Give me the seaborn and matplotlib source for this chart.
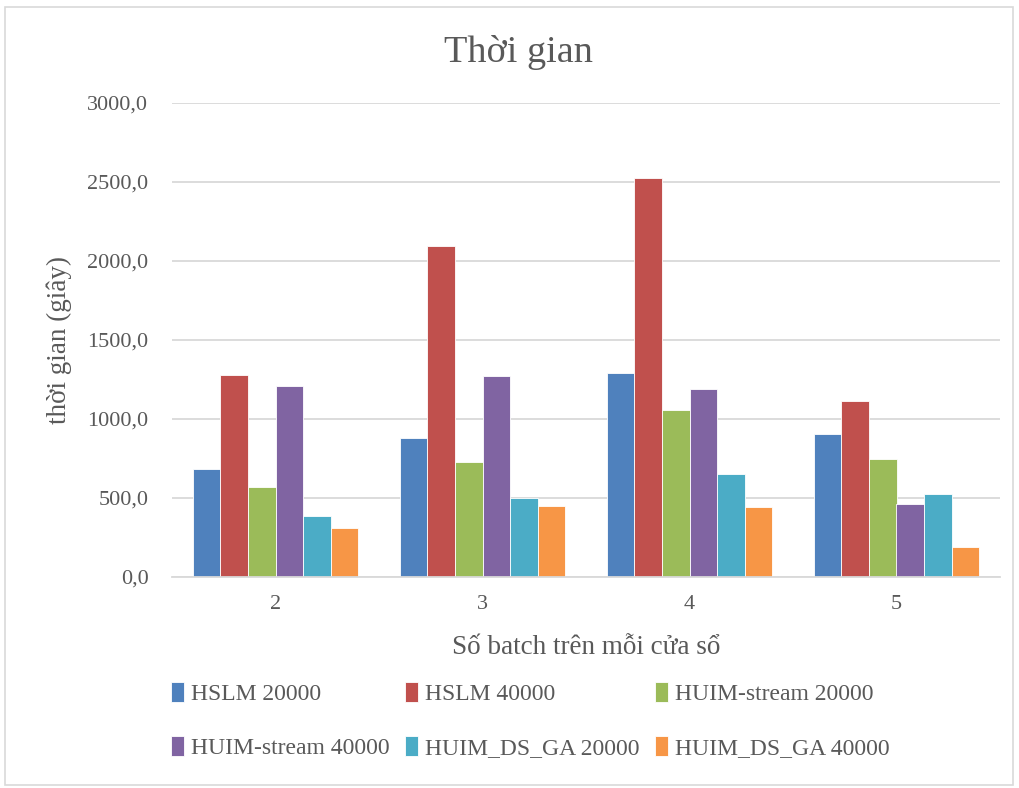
import matplotlib
matplotlib.use("Agg")
import matplotlib.pyplot as plt
import matplotlib.ticker as mticker
from matplotlib.patches import Rectangle
import seaborn as sns
import pandas as pd

# Data
batches = ["2", "3", "4", "5"]
methods = ["HSLM 20000", "HSLM 40000", "HUIM-stream 20000",
           "HUIM-stream 40000", "HUIM_DS_GA 20000", "HUIM_DS_GA 40000"]
hslm_20000 = [683, 880, 1288, 903]
hslm_40000 = [1280, 2094, 2523, 1113]
huim_stream_20000 = [567, 728, 1056, 747]
huim_stream_40000 = [1208, 1273, 1191, 463]
huim_ds_ga_20000 = [385, 499, 650, 525]
huim_ds_ga_40000 = [311, 449, 442, 190]
colors = ["#4F81BD", "#C0504D", "#9BBB59", "#8064A2", "#4BACC6", "#F79646"]

series = [hslm_20000, hslm_40000, huim_stream_20000,
          huim_stream_40000, huim_ds_ga_20000, huim_ds_ga_40000]
rows = []
for m, vals in zip(methods, series):
    for b, v in zip(batches, vals):
        rows.append({"batch": b, "method": m, "time": v})
df = pd.DataFrame(rows)

sns.set_theme(style="white")
plt.rcParams["font.family"] = ["Liberation Serif", "DejaVu Serif"]
text_color = "#595959"

fig = plt.figure(figsize=(10.2, 7.88), dpi=100)
ax = fig.add_axes([172 / 1020, 1 - 577 / 788, (1000 - 172) / 1020, (577 - 103) / 788])

sns.barplot(data=df, x="batch", y="time", hue="method", order=batches,
            hue_order=methods, palette=colors, saturation=1, width=0.8, ax=ax,
            edgecolor="white", linewidth=0.6, errorbar=None)

ax.set_ylim(0, 3000)
ax.set_xlim(-0.5, 3.5)
ax.yaxis.set_major_locator(mticker.MultipleLocator(500))
ax.yaxis.set_major_formatter(mticker.FuncFormatter(lambda v, p: f"{v:.1f}".replace(".", ",")))
ax.grid(axis="y", color="#D9D9D9", linewidth=1.3)
ax.set_axisbelow(True)
for s in ["left", "right", "top"]:
    ax.spines[s].set_visible(False)
ax.spines["bottom"].set_color("#D9D9D9")
ax.spines["bottom"].set_linewidth(1.3)
ax.tick_params(axis="both", length=0, labelsize=16, colors=text_color)
ax.tick_params(axis="x", pad=13)
ax.tick_params(axis="y", pad=17)

ax.set_xlabel("Số batch trên mỗi cửa sổ", fontsize=19.5, color=text_color, labelpad=15)
ax.set_ylabel("thời gian (giây)", fontsize=19.5, color=text_color, labelpad=11)
fig.text(0.508, 1 - 53 / 788, "Thời gian", ha="center", va="center",
         fontsize=27.5, color=text_color)

# legend filled row by row: three entries per row
handles, labels = ax.get_legend_handles_labels()
order = [0, 3, 1, 4, 2, 5]
ax.legend([handles[i] for i in order], [labels[i] for i in order], ncol=3,
          loc="upper left",
          bbox_to_anchor=(171 / 1020, 1 - 682 / 788), bbox_transform=fig.transFigure,
          frameon=False, fontsize=17, handlelength=0.55, handleheight=0.9,
          handletextpad=0.3, columnspacing=0.65, labelspacing=1.33,
          labelcolor=text_color, borderaxespad=0, borderpad=0)

fig.patches.append(Rectangle((5 / 1020, 1 - 785 / 788), 1008 / 1020, 778 / 788,
                             transform=fig.transFigure, fill=False,
                             edgecolor="#D9D9D9", linewidth=1.2))

fig.savefig("out.png", dpi=100, facecolor="white")
